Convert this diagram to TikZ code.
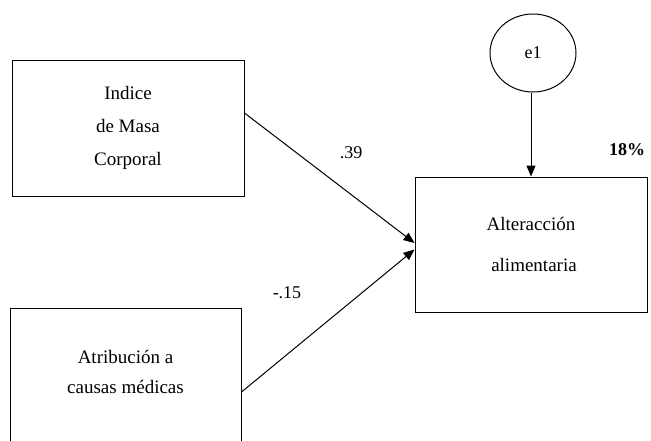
\documentclass[tikz,border=0pt]{standalone}
\usepackage{fontspec}
\setmainfont{Liberation Serif}
\usetikzlibrary{arrows.meta, shapes.geometric}
\tikzset{
    varbox/.style={
        rectangle,
        draw=black, % borde negro
        line width=1pt,
        inner sep=0,
        align=center,
        font=\fontsize{19}{33}\selectfont
    },
    errnode/.style={
        ellipse,
        draw=black,
        line width=1pt,
        minimum width=86pt,
        minimum height=78pt,
        inner sep=0,
        font=\fontsize{18}{20}\selectfont
    },
    coefnode/.style={
        inner sep=0,
        font=\fontsize{18}{20}\selectfont
    },
    effect/.style={
        line width=1pt,
        -{Triangle[length=11pt,width=9pt]}
    }
}

\begin{document}
\begin{tikzpicture}[x=1pt, y=-1pt]
            \useasboundingbox (0,0) rectangle (651,440);
            \node (imc) [varbox, minimum width=232pt, minimum height=136pt]
                at (128,128) {Indice\\de Masa\\Corporal};
            \node (atr) [varbox, minimum width=231pt, minimum height=160pt]
                at (125.5,388) {};
            \node (atrtxt) [varbox, draw=none, font=\fontsize{19}{30}\selectfont]
                at (125.5,372) {Atribución a\\causas médicas};
            \node (alt) [varbox, minimum width=232pt, minimum height=135pt,
                font=\fontsize{19}{41}\selectfont]
                at (531,244.5) {Alteracción\\\hspace{6pt}alimentaria};
            \node (e1) [errnode] at (533,53) {e1};

            \draw[effect] ([yshift=15pt]imc.east) -- ([yshift=1.5pt]alt.west);
            \draw[effect] ([yshift=-4pt]atr.east) -- ([yshift=-5pt]alt.west);
            \draw[effect] (e1.south -| alt.north) -- (alt.north);

            \node (b1) [coefnode] at (351,153) {.39};
            \node (b2) [coefnode] at (287,293) {-.15};
            \node (r2) [coefnode, font=\fontsize{18}{20}\selectfont\bfseries]
                at (627,150) {18\%};
\end{tikzpicture}
\end{document}
